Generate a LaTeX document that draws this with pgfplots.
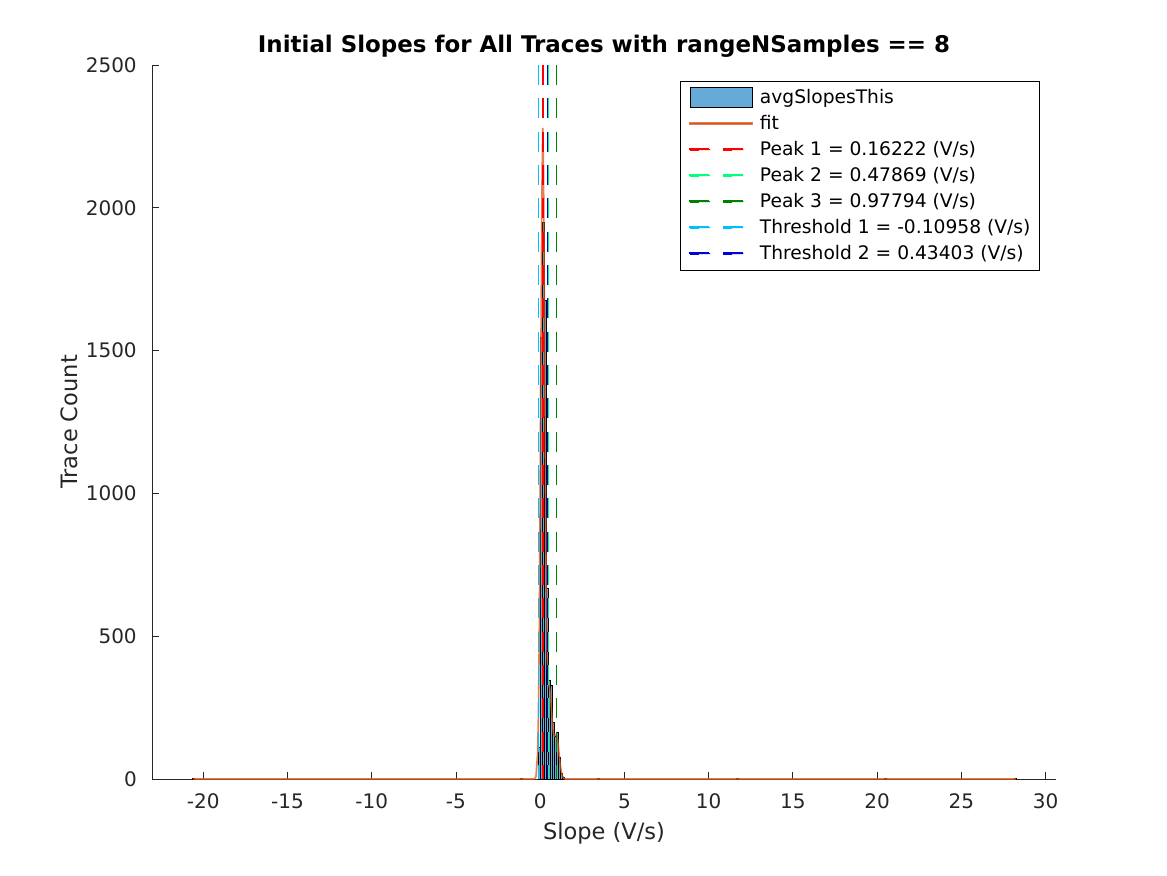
\documentclass[border=0pt]{standalone}
\usepackage{pgfplots}
\pgfplotsset{compat=1.18}
\usepackage{fontspec}
\setmainfont{DejaVu Sans}
\definecolor{histfill}{rgb}{0.4,0.668,0.845}
\definecolor{fitc}{rgb}{0.85,0.325,0.098}
\definecolor{pk1}{rgb}{1,0,0}
\definecolor{pk2}{rgb}{0,1,0.5}
\definecolor{pk3}{rgb}{0,0.5,0}
\definecolor{th1}{rgb}{0,0.75,1}
\definecolor{th2}{rgb}{0,0,0.85}
\definecolor{axgray}{rgb}{0.15,0.15,0.15}
\begin{document}
\begin{tikzpicture}
\path[use as bounding box] (-114pt,-72pt) rectangle (761.25pt,584.25pt);
\begin{axis}[
  at={(0pt,0pt)}, anchor=south west,
  scale only axis, width=678pt, height=535.5pt,
  xmin=-23.04, xmax=30.62, ymin=0, ymax=2500,
  axis x line=bottom, axis y line=left,
  axis line style={-, draw=axgray, line width=0.6pt},
  tick align=inside, major tick length=5.25pt,
  tick style={draw=axgray, line width=0.6pt},
  xtick={-20,-15,...,30}, ytick={0,500,...,2500},
  scaled y ticks=false, scaled x ticks=false,
  /pgf/number format/assume math mode=true,
  /pgf/number format/1000 sep={},
  ticklabel style={font=\fontsize{15pt}{18pt}\selectfont, text=axgray},
  xticklabel style={anchor=base, inner sep=0pt, yshift=-21.75pt},
  yticklabel style={anchor=east, inner sep=0pt, xshift=-11.25pt},
  title={Initial Slopes for All Traces with rangeNSamples == 8},
  title style={font=\bfseries\fontsize{17.2pt}{20pt}\selectfont, at={(axis description cs:0.5,1)}, anchor=base, yshift=3pt},
  xlabel={Slope (V/s)},
  xlabel style={font=\fontsize{16.9pt}{20pt}\selectfont, text=axgray, at={(axis description cs:0.5,0)}, anchor=base, yshift=-45pt},
  ylabel={Trace Count},
  ylabel style={font=\fontsize{16.9pt}{20pt}\selectfont, text=axgray, at={(axis description cs:-0.0819,0.5)}, anchor=base},
  legend cell align=left,
  legend style={at={(axis description cs:0.982,0.9776)}, anchor=north east,
    font=\fontsize{14pt}{16.8pt}\selectfont,
    inner xsep=6.75pt, inner ysep=2.5pt, row sep=0pt, column sep=5.25pt,
    nodes={inner sep=0pt, minimum height=19.5pt}},
]
% histogram (bin edges, counts)
\addplot[ybar interval, fill=histfill, draw=black, line width=0.3pt,
  legend image code/.code={\draw[fill=histfill, draw=black, line width=0.5pt] (0pt,-7.5pt) rectangle (46.5pt,7.5pt);}]
coordinates {
(-0.13,110) (-0.01,1548) (0.11,1950) (0.23,1677) (0.35,669) (0.47,345) (0.59,330)
(0.71,200) (0.83,150) (0.95,165) (1.07,77) (1.19,21) (1.31,8) (1.43,0)
};
% isolated outlier bins
\addplot[ybar interval, fill=histfill, draw=black, line width=0.4pt, forget plot] coordinates {(-20.66,4) (-20.54,0)};
\addplot[ybar interval, fill=histfill, draw=black, line width=0.4pt, forget plot] coordinates {(-1.21,4) (-1.09,0)};
\addplot[ybar interval, fill=histfill, draw=black, line width=0.4pt, forget plot] coordinates {(3.38,4) (3.50,0)};
\addplot[ybar interval, fill=histfill, draw=black, line width=0.4pt, forget plot] coordinates {(11.64,4) (11.76,0)};
\addplot[ybar interval, fill=histfill, draw=black, line width=0.4pt, forget plot] coordinates {(20.44,4) (20.56,0)};
\addplot[ybar interval, fill=histfill, draw=black, line width=0.4pt, forget plot] coordinates {(28.14,4) (28.26,0)};
% fit
\addplot[color=fitc, line width=1.2pt, draw opacity=0.75, no marks,
  legend image code/.code={\fill[fill=fitc] (0pt,-0.35pt) rectangle (46.5pt,0.35pt);}]
coordinates {
(-20.62,0) (-0.35,0) (-0.25,8) (-0.15,90) (-0.10,237) (-0.05,528) (0.00,986)
(0.05,1548) (0.10,2043) (0.155,2280) (0.20,2136) (0.25,1702) (0.30,1171)
(0.35,733) (0.40,470) (0.45,359) (0.50,329) (0.55,323) (0.60,302) (0.65,263)
(0.70,218) (0.75,178) (0.80,156) (0.85,151) (0.90,155) (0.97,156) (1.05,132)
(1.10,103) (1.20,46) (1.30,13) (1.40,2.5) (1.50,0) (28.25,0)
};
% peaks and thresholds
\addplot[color=pk1, line width=1pt, dash pattern=on 15pt off 10pt, no marks,
  legend image code/.code={\fill[fill=pk1] (0pt,-0.35pt) rectangle (15pt,0.35pt) (25pt,-0.35pt) rectangle (40pt,0.35pt);}]
coordinates {(0.16222,2500) (0.16222,0)};
\addplot[color=pk2, line width=1pt, dash pattern=on 15pt off 10pt, no marks,
  legend image code/.code={\fill[fill=pk2] (0pt,-0.35pt) rectangle (15pt,0.35pt) (25pt,-0.35pt) rectangle (40pt,0.35pt);}]
coordinates {(0.47869,2500) (0.47869,0)};
\addplot[color=pk3, line width=1pt, dash pattern=on 15pt off 10pt, no marks,
  legend image code/.code={\fill[fill=pk3] (0pt,-0.35pt) rectangle (15pt,0.35pt) (25pt,-0.35pt) rectangle (40pt,0.35pt);}]
coordinates {(0.97794,2500) (0.97794,0)};
\addplot[color=th1, line width=1pt, dash pattern=on 15pt off 10pt, no marks,
  legend image code/.code={\fill[fill=th1] (0pt,-0.35pt) rectangle (15pt,0.35pt) (25pt,-0.35pt) rectangle (40pt,0.35pt);}]
coordinates {(-0.10958,2500) (-0.10958,0)};
\addplot[color=th2, line width=1pt, dash pattern=on 15pt off 10pt, no marks,
  legend image code/.code={\fill[fill=th2] (0pt,-0.35pt) rectangle (15pt,0.35pt) (25pt,-0.35pt) rectangle (40pt,0.35pt);}]
coordinates {(0.43403,2500) (0.43403,0)};
\legend{avgSlopesThis, fit, Peak 1 = 0.16222 (V/s), Peak 2 = 0.47869 (V/s), Peak 3 = 0.97794 (V/s), Threshold 1 = -0.10958 (V/s), Threshold 2 = 0.43403 (V/s)}
\end{axis}
\end{tikzpicture}
\end{document}
